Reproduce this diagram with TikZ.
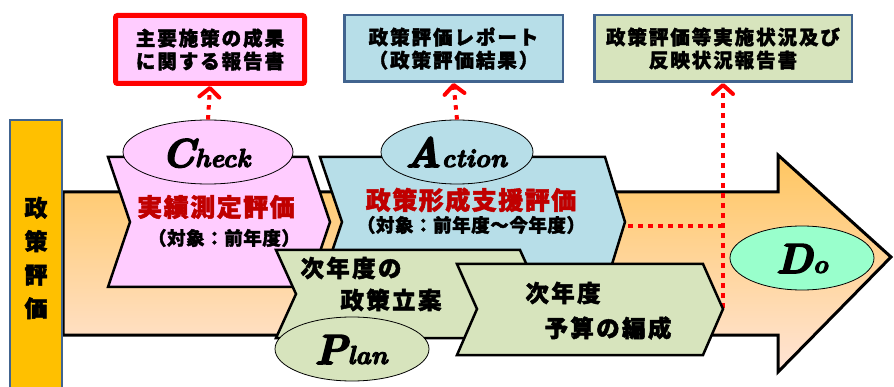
\documentclass[tikz,border=0pt]{standalone}
\usepackage{fontspec}
\newfontfamily\jp{Noto Sans CJK JP}[BoldFeatures={FakeBold=2}]
\newfontfamily\pdcafont{Latin Modern Roman}[BoldItalicFeatures={FakeBold=4}]
\usetikzlibrary{shapes.geometric,arrows.meta}
\definecolor{pinkf}{HTML}{FFCCFF}
\definecolor{bluef}{HTML}{B7DEE8}
\definecolor{greenf}{HTML}{D7E4BD}
\definecolor{mintf}{HTML}{99FFCC}
\definecolor{darkred}{HTML}{C00000}
\definecolor{barf}{HTML}{FFC000}
\definecolor{slate}{HTML}{41648F}
\definecolor{arrtop}{RGB}{255,198,96}
\definecolor{arrbot}{RGB}{255,228,214}
\tikzset{
  chev/.style={draw=black, line width=2.5pt, line join=miter},
  oval/.style={ellipse, draw=black, line width=0.8pt, inner sep=0pt},
  topbox/.style={rectangle, draw=slate, line width=2.5pt, inner sep=0pt, align=center,
    font=\jp\bfseries\addfontfeatures{LetterSpace=10}\fontsize{19.5}{23}\selectfont},
  maintxt/.style={inner sep=0pt, text=darkred, font=\jp\bfseries\addfontfeatures{LetterSpace=6}\fontsize{25}{28}\selectfont},
  subtxt/.style={inner sep=0pt, font=\jp\bfseries\addfontfeatures{LetterSpace=3}\fontsize{18.5}{20}\selectfont},
  greentxt/.style={inner sep=0pt, font=\jp\bfseries\addfontfeatures{LetterSpace=10}\fontsize{23.5}{26}\selectfont},
  pdca/.style={inner sep=0pt, anchor=base, font=\pdcafont\bfseries\itshape},
  dotline/.style={draw=red, line width=4pt, dash pattern=on 4.5pt off 5.5pt},
  dotarrow/.style={dotline, -{Straight Barb[length=9pt,width=20pt,round]}}
}
\begin{document}
\begin{tikzpicture}[x=1pt,y=-1pt]
\useasboundingbox (0,0) rectangle (894,387);
% big arrow
\draw[line width=3pt, line join=miter, top color=arrtop, bottom color=arrbot]
  (63,192) -- (778,192) -- (778,155) -- (891,257) -- (778,372) -- (778,335) -- (63,335) -- cycle;
% vertical bar
\node[rectangle, draw=slate, fill=barf, line width=2pt, minimum width=52, minimum height=276, inner sep=0pt,
  align=center, font=\jp\bfseries\fontsize{23}{33.5}\selectfont] (bar) at (36,258) {政\\策\\評\\価};
% Action chevron
\draw[chev, fill=bluef] (320,157) -- (605,157) -- (625,222) -- (605,287) -- (320,287) -- (342,222) -- cycle;
% Check chevron
\draw[chev, fill=pinkf] (108,157) -- (308,157) -- (330,222) -- (308,287) -- (108,287) -- (130,222) -- cycle;
\node[oval, fill=pinkf, minimum width=170, minimum height=64] (check) at (208,152) {};
\node[oval, fill=bluef, minimum width=152, minimum height=64] (action) at (457,152) {};
\node[pdca] (checkl) at (206,167) {{\fontsize{40}{40}\selectfont C}{\fontsize{26}{26}\selectfont heck}};
\node[pdca] (actionl) at (456,167) {{\fontsize{42}{42}\selectfont A}{\fontsize{26}{26}\selectfont ction}};
\node[maintxt] (t1) at (216,207) {実績測定評価};
\node[subtxt] (t2) at (224,238) {（対象：前年度）};
\node[maintxt] (t3) at (471,200) {政策形成支援評価};
\node[subtxt] (t4) at (471,225) {（対象：前年度～今年度）};
% dotted lines
\coordinate (hstart) at (628,226);
\coordinate (hend) at (723,226);
\coordinate (vbot) at (723,308);
\draw[dotline] (hstart) -- (hend);
% Plan chevron
\draw[chev, fill=greenf] (276,250) -- (520,250) -- (540,294) -- (520,338) -- (276,338) -- (296,294) -- cycle;
\node[greentxt] (p1) at (351,268) {次年度の};
\node[greentxt] (p2) at (391,300) {政策立案};
\node[oval, fill=greenf, minimum width=154, minimum height=64] (plan) at (352,349) {};
\node[pdca] (planl) at (351,364) {{\fontsize{42}{42}\selectfont P}{\fontsize{26}{26}\selectfont lan}};
% Do ellipse
\node[oval, fill=mintf, minimum width=144, minimum height=64] (do) at (802,258) {};
\node[pdca] (dol) at (802,273) {{\fontsize{42}{42}\selectfont D}{\fontsize{26}{26}\selectfont o}};
% top boxes
\node[topbox, draw=red, line width=5pt, rounded corners=2pt, fill=pinkf, minimum width=189, minimum height=68] (box1) at (210,49.5) {主要施策の成果\\に関する報告書};
\node[topbox, fill=bluef, minimum width=218.5, minimum height=66.5] (box2) at (453.5,48.5) {政策評価レポート\\（政策評価結果）};
\node[topbox, fill=greenf, minimum width=257.5, minimum height=66.5] (box3) at (723,48.5) {政策評価等実施状況及び\\反映状況報告書};
\draw[dotarrow] (check.north) -- (box1.south);
\draw[dotarrow] (action.north) -- (box2.south);
\draw[dotarrow] (vbot) -- (box3.south);
% Budget chevron
\draw[chev, fill=greenf] (457,264) -- (703,264) -- (723,309) -- (703,355) -- (457,355) -- (477,309) -- cycle;
\node[greentxt] (b1) at (563,293) {次年度};
\node[greentxt] (b2) at (608,328) {予算の編成};
\end{tikzpicture}
\end{document}
